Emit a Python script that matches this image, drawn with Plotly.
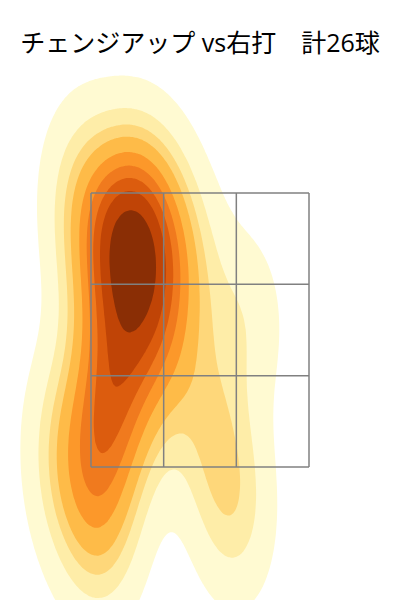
import numpy as np
import plotly.graph_objects as go

# ---- data: 26 changeup locations (plate_x, plate_z in feet, catcher view) ----
plate_x = [-0.78, -0.39, -0.55, -0.26, -0.42, -0.71, -0.10, -0.45, -0.32, -0.58,
           -0.19, -0.42, -0.62, -0.32, -0.58, 0.03, -0.62, -0.52, -0.84, -0.65,
           0.16, 0.23, -0.65, 0.29, -0.88, -0.49]
plate_z = [3.35, 3.25, 3.22, 3.19, 3.06, 2.96, 2.89, 2.83, 2.70, 2.60,
           2.47, 2.37, 2.20, 2.14, 1.97, 1.87, 1.78, 1.64, 1.35, 1.25,
           1.48, 1.12, 0.99, 2.47, 1.74, 2.99]

zone_left, zone_right = -0.7083, 0.7083
zone_bot, zone_top = 1.5, 3.3

title_text = "チェンジアップ vs右打\u3000計26球"

band_colors = ["rgb(255,250,210)", "rgb(254,237,168)", "rgb(254,215,122)",
               "rgb(254,187,72)", "rgb(252,152,42)", "rgb(240,122,30)",
               "rgb(220,92,14)", "rgb(192,68,6)", "rgb(138,46,5)"]

# ---- gaussian KDE (Scott's rule), seaborn-style iso-proportion levels ----
pts = np.vstack([plate_x, plate_z])
n = pts.shape[1]
factor = n ** (-1.0 / 6.0)
cov = np.cov(pts, ddof=1) * factor ** 2
inv = np.linalg.inv(cov)
bw = np.sqrt(np.diag(cov))
gx = np.linspace(pts[0].min() - 3 * bw[0], pts[0].max() + 3 * bw[0], 200)
gz = np.linspace(pts[1].min() - 3 * bw[1], pts[1].max() + 3 * bw[1], 200)
XX, ZZ = np.meshgrid(gx, gz)
dens = np.zeros_like(XX)
for i in range(n):
    dx = XX - pts[0, i]
    dz = ZZ - pts[1, i]
    q = inv[0, 0] * dx * dx + 2 * inv[0, 1] * dx * dz + inv[1, 1] * dz * dz
    dens += np.exp(-0.5 * q)
flat = dens.ravel()
order = np.argsort(flat)[::-1]
cum = np.cumsum(flat[order]) / flat.sum()
prop = np.empty_like(flat)
prop[order] = 1.0 - cum + flat[order] / flat.sum()
prop = prop.reshape(dens.shape)

nlev = 10
start = 0.05
size = (1.0 - start) / (nlev - 1)
colorscale = [[0.0, "rgba(255,255,255,0)"]]
for i, c in enumerate(band_colors):
    colorscale.append([(i + 1) / nlev, c])
colorscale.append([1.0, band_colors[-1]])

fig = go.Figure()
fig.add_trace(go.Contour(
    x=gx, y=gz, z=prop,
    contours=dict(start=start, end=start + size * (nlev - 1), size=size, coloring="fill"),
    colorscale=colorscale, showscale=False, line=dict(width=0),
    hoverinfo="skip"))

# strike zone 3x3 grid
xs = np.linspace(zone_left, zone_right, 4)
zs = np.linspace(zone_bot, zone_top, 4)
shapes = []
for x in xs:
    shapes.append(dict(type="line", x0=x, x1=x, y0=zone_bot, y1=zone_top,
                       line=dict(color="gray", width=1.5), layer="above"))
for z in zs:
    shapes.append(dict(type="line", x0=zone_left, x1=zone_right, y0=z, y1=z,
                       line=dict(color="gray", width=1.5), layer="above"))

# pixel scale (page body has an 8px offset)
sx = 218 / (zone_right - zone_left)
sz = 274 / (zone_top - zone_bot)
off = 8
fig.update_layout(
    width=400, height=600,
    margin=dict(l=0, r=0, t=0, b=0),
    paper_bgcolor="white", plot_bgcolor="white",
    shapes=shapes,
    title=dict(text=title_text, x=(200 - off) / 400, xanchor="center",
               y=1 - (43 - off) / 600, yanchor="middle", yref="container",
               font=dict(family="Open Sans, Noto Sans CJK JP", size=25, color="black")),
    xaxis=dict(range=[(off - 200) / sx, (400 + off - 200) / sx], visible=False,
               showgrid=False, zeroline=False),
    yaxis=dict(range=[zone_bot - (600 + off - 467) / sz, zone_top + (193 - off) / sz],
               visible=False, showgrid=False, zeroline=False),
    showlegend=False,
)
fig.write_html("out.html")
